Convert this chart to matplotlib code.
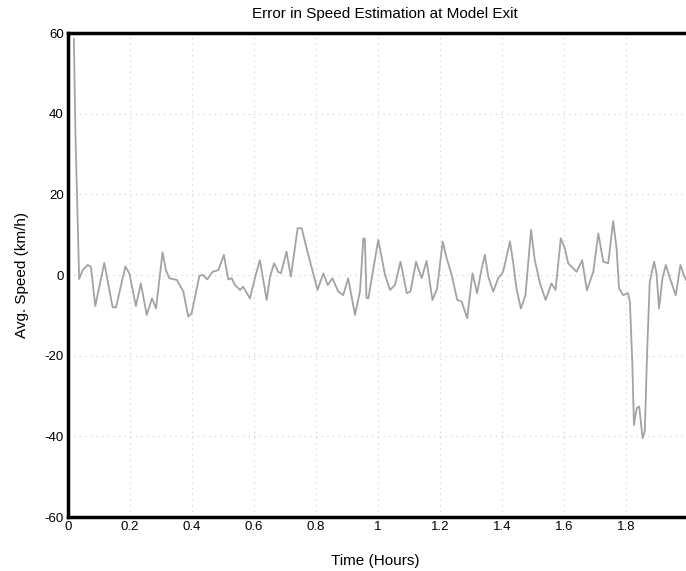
import matplotlib.pyplot as plt
import numpy as np

plt.rcParams['font.family'] = ['Liberation Sans', 'DejaVu Sans']
plt.rcParams['axes.unicode_minus'] = False

# Speed error at model exit
time_hours = [0.019, 0.024, 0.029, 0.034, 0.036, 0.047, 0.064, 0.074, 0.088, 0.117,
              0.144, 0.155, 0.185, 0.198, 0.219, 0.235, 0.254, 0.271, 0.284, 0.305,
              0.316, 0.327, 0.343, 0.351, 0.372, 0.388, 0.399, 0.410, 0.424, 0.436,
              0.449, 0.467, 0.485, 0.503, 0.517, 0.528, 0.539, 0.555, 0.565, 0.587,
              0.603, 0.619, 0.641, 0.652, 0.665, 0.678, 0.687, 0.705, 0.719, 0.741,
              0.754, 0.770, 0.791, 0.805, 0.824, 0.838, 0.853, 0.872, 0.888, 0.904,
              0.926, 0.942, 0.953, 0.958, 0.963, 0.969, 1.001, 1.023, 1.039, 1.055,
              1.073, 1.093, 1.105, 1.123, 1.141, 1.157, 1.176, 1.191, 1.209, 1.222,
              1.238, 1.256, 1.270, 1.288, 1.305, 1.320, 1.335, 1.345, 1.356, 1.372,
              1.388, 1.404, 1.426, 1.436, 1.447, 1.461, 1.476, 1.494, 1.506, 1.523,
              1.541, 1.560, 1.573, 1.590, 1.603, 1.614, 1.641, 1.659, 1.674, 1.695,
              1.711, 1.727, 1.743, 1.759, 1.770, 1.778, 1.791, 1.807, 1.813, 1.821,
              1.826, 1.835, 1.843, 1.854, 1.861, 1.869, 1.877, 1.891, 1.899, 1.907,
              1.918, 1.929, 1.942, 1.961, 1.976, 1.987, 1.994]
speed_error = [58.5, 35.0, 20.0, 5.0, -1.0, 1.2, 2.5, 2.0, -7.7, 3.0,
               -8.0, -8.0, 2.1, 0.4, -7.7, -2.1, -9.9, -5.8, -8.3, 5.6,
               1.2, -0.8, -1.1, -1.2, -4.1, -10.3, -9.5, -5.4, -0.2, 0.0,
               -1.1, 0.8, 1.2, 5.0, -1.1, -0.8, -2.5, -3.7, -2.9, -5.8,
               -0.8, 3.7, -6.2, -0.4, 2.9, 0.8, 0.4, 5.8, -0.4, 11.6,
               11.6, 6.6, 0.4, -3.7, 0.4, -2.5, -0.8, -4.1, -5.0, -0.8,
               -9.9, -4.1, 9.1, 9.0, -5.7, -5.8, 8.7, 0.0, -3.7, -2.5,
               3.3, -4.5, -4.1, 3.3, -0.8, 3.5, -6.2, -3.3, 8.3, 4.1,
               0.0, -6.2, -6.6, -10.7, 0.4, -4.5, 1.7, 5.0, -0.4, -4.1,
               -0.8, 0.8, 8.3, 3.3, -3.3, -8.3, -5.0, 11.2, 3.7, -2.1,
               -6.2, -2.1, -3.7, 9.1, 6.6, 2.9, 0.8, 3.7, -3.8, 0.8,
               10.3, 3.3, 2.9, 13.4, 6.6, -3.3, -5.0, -4.5, -6.6, -22.3,
               -37.2, -33.0, -32.6, -40.5, -38.8, -18.2, -1.7, 3.3, 0.4, -8.3,
               -0.8, 2.5, -0.8, -5.0, 2.5, 0.0, -1.2]

x_ticks = [0, 0.2, 0.4, 0.6, 0.8, 1, 1.2, 1.4, 1.6, 1.8]
x_tick_labels = ['0', '0.2', '0.4', '0.6', '0.8', '1', '1.2', '1.4', '1.6', '1.8']
y_ticks = [-60, -40, -20, 0, 20, 40, 60]

fig = plt.figure(figsize=(6.86, 5.71), dpi=100)
ax = fig.add_axes([68 / 686, 54 / 571, 1 - 68 / 686, 484 / 571])

ax.plot(time_hours, speed_error, color='#a3a3a3', linewidth=1.3,
        solid_joinstyle='round')

ax.set_xlim(0, 1.994)
ax.set_ylim(-60, 60)
ax.set_xticks(x_ticks)
ax.set_xticklabels(x_tick_labels)
ax.set_yticks(y_ticks)
ax.tick_params(length=0, labelsize=9.5, pad=3)
ax.grid(True, color='#d4d4d4', linestyle=(0, (1, 3.5)), linewidth=0.9)

for side in ['left', 'bottom', 'top']:
    ax.spines[side].set_linewidth(2.5)
    ax.spines[side].set_color('black')
ax.spines['right'].set_visible(False)

fig.text(385 / 686, 1 - 14 / 571, 'Error in Speed Estimation at Model Exit',
         ha='center', va='center', fontsize=11)
fig.text(375 / 686, 1 - 561 / 571, 'Time (Hours)', ha='center', va='center', fontsize=11)
fig.text(22 / 686, 1 - 275 / 571, 'Avg. Speed (km/h)', ha='center', va='center',
         rotation=90, fontsize=11)

fig.savefig('out.png', dpi=100)
